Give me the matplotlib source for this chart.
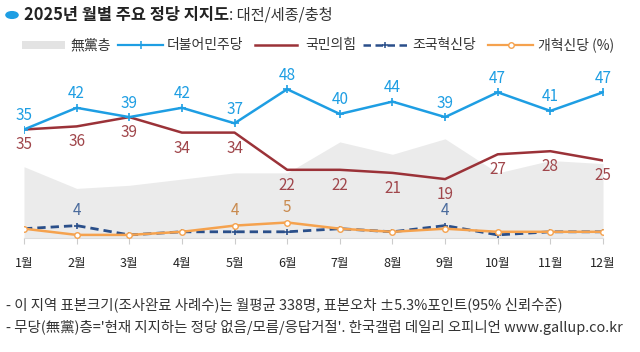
"""Monthly party support chart: Daejeon/Sejong/Chungcheong, 2025."""

import matplotlib
import matplotlib.pyplot as plt
from matplotlib.lines import Line2D
from matplotlib.patches import Rectangle, Circle

matplotlib.use("Agg")

plt.rcParams["font.family"] = ["Noto Sans CJK KR", "DejaVu Sans"]

# ---- data ----
months = ["1월", "2월", "3월", "4월", "5월", "6월", "7월", "8월", "9월", "10월", "11월", "12월"]
minjoo = [35, 42, 39, 42, 37, 48, 40, 44, 39, 47, 41, 47]
ppp = [35, 36, 39, 34, 34, 22, 22, 21, 19, 27, 28, 25]
cho = [3, 4, 1, 2, 2, 2, 3, 2, 4, 1, 2, 2]
reform = [3, 1, 1, 2, 4, 5, 3, 2, 3, 2, 2, 2]
nonpartisan = [23, 16, 17, 19, 21, 21, 31, 27, 32, 21, 25, 24]

C_MJ = "#1e9ee3"
C_PPP = "#9b3238"
C_CHO = "#2a4f8a"
C_REF = "#f5a24e"
C_GRAY = "#ebebeb"

fig = plt.figure(figsize=(6.4, 3.52), dpi=100)
ax = fig.add_axes([24 / 640, 1 - 238 / 352, (603 - 24) / 640, (238 - 83) / 352])

x = list(range(len(months)))
ax.fill_between(x, 0, nonpartisan, color=C_GRAY, lw=0, zorder=1)
ax.plot(x, minjoo, color=C_MJ, lw=1.8, marker="+", ms=6, mew=1.2, zorder=4)
ax.plot(x, ppp, color=C_PPP, lw=1.8, zorder=3)
ax.plot(x, cho, color=C_CHO, lw=2.0, ls=(0, (3, 1.8)), marker="+", ms=5, mew=1.2, zorder=3)
ax.plot(x, reform, color=C_REF, lw=1.8, marker="o", ms=4, mfc="white", mew=1.0, zorder=4)

for i in x:
    ax.annotate(str(minjoo[i]), (i, minjoo[i]), xytext=(0, 4), textcoords="offset points",
                ha="center", va="bottom", color=C_MJ, fontsize=11, clip_on=False)
    ax.annotate(str(ppp[i]), (i, ppp[i]), xytext=(0, -5), textcoords="offset points",
                ha="center", va="top", color="#a0464b", fontsize=11, clip_on=False)
    if cho[i] >= 4:
        ax.annotate(str(cho[i]), (i, cho[i]), xytext=(0, 5), textcoords="offset points",
                    ha="center", va="bottom", color="#4a6b9c", fontsize=11)
    if reform[i] >= 4:
        ax.annotate(str(reform[i]), (i, reform[i]), xytext=(0, 5), textcoords="offset points",
                    ha="center", va="bottom", color="#c98a4e", fontsize=11)

ax.set_xlim(0, 11)
ax.set_ylim(0, 50)
ax.set_xticks(x)
ax.set_xticklabels(months, fontsize=9, color="#222222")
ax.set_yticks([])
ax.tick_params(axis="x", length=4, color="#cccccc", pad=10)
for s in ["top", "right", "left"]:
    ax.spines[s].set_visible(False)
ax.spines["bottom"].set_color("#dddddd")
ax.patch.set_visible(False)

# ---- title ----
fig.add_artist(Circle((12 / 640, 1 - 15 / 352), 0.0095, transform=fig.transFigure,
                      color="#1e9ee3"))
t = fig.text(24 / 640, 1 - 15 / 352, "2025년 월별 주요 정당 지지도", fontsize=11.8,
             fontweight="bold", va="center", ha="left", color="#222222")
renderer = fig.canvas.get_renderer()
bb = t.get_window_extent(renderer)
fig.text(bb.x1 / 640, 1 - 15 / 352, ": 대전/세종/충청", fontsize=11, va="center",
         ha="left", color="#333333")

# ---- legend ----
ly = 1 - 45 / 352
fig.add_artist(Rectangle((22 / 640, ly - 0.012), 43 / 640, 0.024, transform=fig.transFigure,
                         color="#e3e3e3", lw=0))
fig.text(70 / 640, ly, "無黨층", fontsize=10, va="center", color="#333333")


def legend_line(x0, x1, **kw):
    xm = (x0 + x1) / 2
    fig.add_artist(Line2D([x0 / 640, xm / 640, x1 / 640], [ly, ly, ly],
                          transform=fig.transFigure, markevery=[1], **kw))


legend_line(118, 163, color=C_MJ, lw=1.6, marker="+", ms=6, mew=1.1)
fig.text(167 / 640, ly, "더불어민주당", fontsize=10, va="center", color="#333333")
legend_line(255, 297, color=C_PPP, lw=1.8)
fig.text(305 / 640, ly, "국민의힘", fontsize=10, va="center", color="#333333")
legend_line(363, 407, color=C_CHO, lw=1.8, ls=(0, (3, 1.8)), marker="+", ms=5, mew=1.1)
fig.text(412 / 640, ly, "조국혁신당", fontsize=10, va="center", color="#333333")
legend_line(488, 533, color=C_REF, lw=1.6, marker="o", ms=4, mfc="white", mew=1.0)
fig.text(538 / 640, ly, "개혁신당 (%)", fontsize=10, va="center", color="#333333")

# ---- footnotes ----
fig.text(6 / 640, 1 - 305 / 352,
         "- 이 지역 표본크기(조사완료 사례수)는 월평균 338명, 표본오차 ±5.3%포인트(95% 신뢰수준)",
         fontsize=10.4, va="center", color="#333333")
fig.text(6 / 640, 1 - 327 / 352,
         "- 무당(無黨)층='현재 지지하는 정당 없음/모름/응답거절'. 한국갤럽 데일리 오피니언 www.gallup.co.kr",
         fontsize=10.4, va="center", color="#333333")

fig.savefig("out.png", dpi=100)
plt.close(fig)
